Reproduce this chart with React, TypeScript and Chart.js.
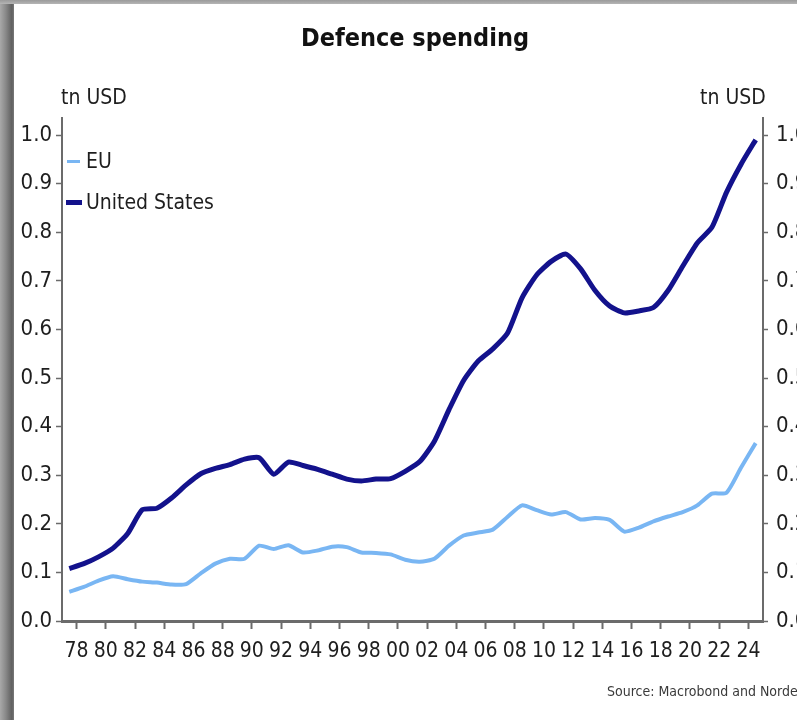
import React, { useEffect, useRef } from "react";
import { Chart, registerables } from "chart.js";

Chart.register(...registerables);

const years: number[] = [
  1977, 1978, 1979, 1980, 1981, 1982, 1983, 1984, 1985, 1986, 1987, 1988,
  1989, 1990, 1991, 1992, 1993, 1994, 1995, 1996, 1997, 1998, 1999, 2000,
  2001, 2002, 2003, 2004, 2005, 2006, 2007, 2008, 2009, 2010, 2011, 2012,
  2013, 2014, 2015, 2016, 2017, 2018, 2019, 2020, 2021, 2022, 2023, 2024,
];

const euValues: number[] = [
  0.06, 0.07, 0.083, 0.092, 0.086, 0.081, 0.079, 0.075, 0.076, 0.098, 0.118, 0.128,
  0.128, 0.155, 0.148, 0.156, 0.141, 0.145, 0.153, 0.152, 0.141, 0.14, 0.137, 0.126,
  0.122, 0.128, 0.155, 0.176, 0.182, 0.188, 0.214, 0.238, 0.228, 0.219, 0.224, 0.209,
  0.212, 0.208, 0.184, 0.192, 0.205, 0.215, 0.224, 0.238, 0.262, 0.264, 0.316, 0.366,
];

const usValues: number[] = [
  0.108, 0.118, 0.132, 0.15, 0.18, 0.229, 0.232, 0.253, 0.28, 0.303, 0.314, 0.322,
  0.333, 0.336, 0.302, 0.327, 0.32, 0.312, 0.302, 0.292, 0.288, 0.292, 0.293, 0.308,
  0.328, 0.37, 0.435, 0.495, 0.535, 0.56, 0.592, 0.665, 0.712, 0.74, 0.755, 0.725,
  0.68, 0.648, 0.634, 0.638, 0.645, 0.68, 0.73, 0.778, 0.81, 0.882, 0.94, 0.99,
];

const xTickYears: number[] = [
  1978, 1980, 1982, 1984, 1986, 1988, 1990, 1992, 1994, 1996, 1998, 2000, 2002,
  2004, 2006, 2008, 2010, 2012, 2014, 2016, 2018, 2020, 2022, 2024,
];

const yTickValues: number[] = [0, 0.1, 0.2, 0.3, 0.4, 0.5, 0.6, 0.7, 0.8, 0.9, 1.0];

const seriesNames: string[] = ["EU", "United States"];
const titleText = "Defence spending";
const unitText = "tn USD";
const sourceText = "Source: Macrobond and Nordea";

const EU_COLOR = "#79b6f3";
const US_COLOR = "#13128c";
const AXIS_COLOR = "#6b6b6b";
const TEXT_COLOR = "#1e1e1e";
const FONT = "'DejaVu Sans Condensed', 'Liberation Sans', sans-serif";

export default function App() {
  const canvasRef = useRef<HTMLCanvasElement | null>(null);

  useEffect(() => {
    const canvas = canvasRef.current;
    if (!canvas) return;
    const chart = new Chart(canvas, {
      type: "line",
      data: {
        datasets: [
          {
            label: seriesNames[0],
            data: years.map((y, i) => ({ x: y + 0.5, y: euValues[i] })),
            borderColor: EU_COLOR,
            borderWidth: 4,
            pointRadius: 0,
            tension: 0.2,
            fill: false,
            yAxisID: "y",
          },
          {
            label: seriesNames[1],
            data: years.map((y, i) => ({ x: y + 0.5, y: usValues[i] })),
            borderColor: US_COLOR,
            borderWidth: 5,
            pointRadius: 0,
            tension: 0.2,
            fill: false,
            yAxisID: "y",
          },
        ],
      },
      options: {
        responsive: false,
        animation: false,
        layout: { padding: 0 },
        plugins: {
          legend: { display: false },
          tooltip: { enabled: false },
          title: {
            display: true,
            text: titleText,
            color: "#111",
            font: { family: FONT, size: 25, weight: "bold", lineHeight: 1.2 },
            padding: { top: 24, bottom: 64 },
          },
        },
        scales: {
          x: {
            type: "linear",
            min: 1977,
            max: 2025,
            afterBuildTicks: (scale: any) => {
              scale.ticks = xTickYears.map((v) => ({ value: v }));
            },
            afterFit: (scale: any) => {
              scale.height = 99;
            },
            ticks: {
              autoSkip: false,
              maxRotation: 0,
              color: TEXT_COLOR,
              font: { family: FONT, size: 21 },
              padding: 10,
              callback: (v: any) => String(Number(v) % 100).padStart(2, "0"),
            },
            grid: {
              drawOnChartArea: false,
              drawTicks: true,
              tickLength: 8,
              tickWidth: 2,
              tickColor: AXIS_COLOR,
            },
            border: { display: true, color: AXIS_COLOR, width: 3 },
          },
          y: {
            position: "left",
            min: 0,
            max: 1.035,
            afterBuildTicks: (scale: any) => {
              scale.ticks = yTickValues.map((v) => ({ value: v }));
            },
            afterFit: (scale: any) => {
              scale.width = 62;
            },
            ticks: {
              color: TEXT_COLOR,
              font: { family: FONT, size: 22 },
              padding: 4,
              callback: (v: any) => Number(v).toFixed(1),
            },
            grid: {
              drawOnChartArea: false,
              drawTicks: true,
              tickLength: 6,
              tickWidth: 1.5,
              tickColor: AXIS_COLOR,
            },
            border: { display: true, color: AXIS_COLOR, width: 2 },
          },
          y2: {
            position: "right",
            min: 0,
            max: 1.035,
            afterBuildTicks: (scale: any) => {
              scale.ticks = yTickValues.map((v) => ({ value: v }));
            },
            afterFit: (scale: any) => {
              scale.width = 67;
            },
            ticks: {
              color: TEXT_COLOR,
              font: { family: FONT, size: 22 },
              padding: 8,
              callback: (v: any) => Number(v).toFixed(1),
            },
            grid: {
              drawOnChartArea: false,
              drawTicks: true,
              tickLength: 5,
              tickWidth: 1.5,
              tickColor: AXIS_COLOR,
            },
            border: { display: true, color: AXIS_COLOR, width: 2 },
          },
        },
      },
    });
    return () => chart.destroy();
  }, []);

  const textStyle: React.CSSProperties = {
    position: "absolute",
    fontFamily: FONT,
    color: TEXT_COLOR,
    whiteSpace: "nowrap",
    lineHeight: 1,
  };

  return (
    <div
      style={{
        position: "absolute",
        left: 0,
        top: 0,
        width: 797,
        height: 720,
        overflow: "hidden",
        background: "#ffffff",
      }}
    >
      <div
        style={{
          position: "absolute",
          left: 0,
          top: 0,
          width: 14,
          height: 720,
          background: "linear-gradient(to right, #a9a9a9, #8a8a8a 40%, #606060 85%, #7a7a7a)",
        }}
      />
      <div
        style={{
          position: "absolute",
          left: 0,
          top: 0,
          width: 797,
          height: 4,
          background: "linear-gradient(to bottom, #9a9a9a, #b5b5b5)",
        }}
      />
      <canvas
        ref={canvasRef}
        width={830}
        height={720}
        style={{ position: "absolute", left: 0, top: 0, width: 830, height: 720 }}
      />
      <div style={{ ...textStyle, left: 61, top: 87, fontSize: 21 }}>{unitText}</div>
      <div style={{ ...textStyle, left: 700, top: 87, fontSize: 21 }}>{unitText}</div>
      <div style={{ position: "absolute", left: 67, top: 160, width: 13, height: 3, background: EU_COLOR }} />
      <div style={{ ...textStyle, left: 86, top: 151, fontSize: 21 }}>{seriesNames[0]}</div>
      <div style={{ position: "absolute", left: 66, top: 200, width: 16, height: 5, background: US_COLOR }} />
      <div style={{ ...textStyle, left: 86, top: 192, fontSize: 21 }}>{seriesNames[1]}</div>
      <div style={{ ...textStyle, left: 607, top: 684, fontSize: 14, color: "#3a3a3a" }}>{sourceText}</div>
    </div>
  );
}
